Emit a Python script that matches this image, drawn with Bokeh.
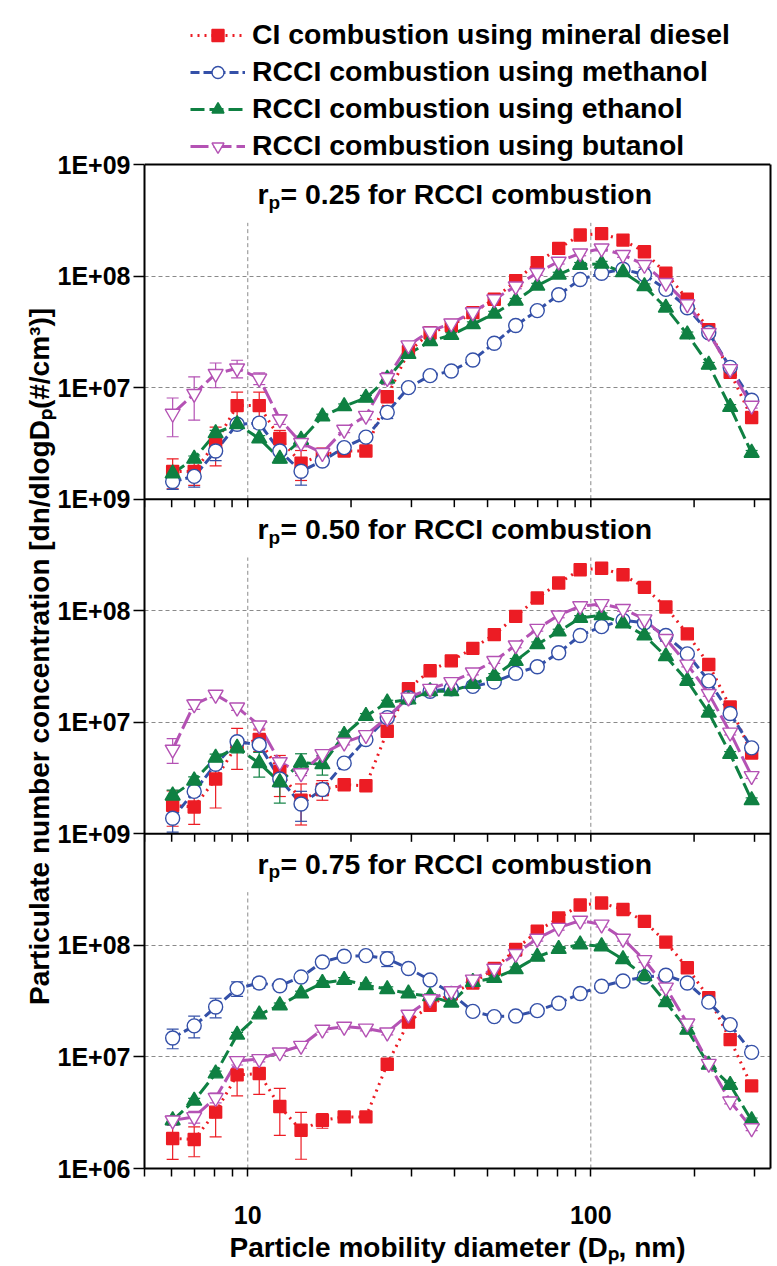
from bokeh.plotting import figure
from bokeh.models import (Range1d, LogScale, FixedTicker, Span, Label, Legend, LegendItem,
                          ColumnDataSource, Whisker, TeeHead, CustomJSTickFormatter,
                          BasicTickFormatter, LogAxis)
from bokeh.embed import file_html
from bokeh.resources import INLINE
import numpy as np

FONT = "Liberation Sans"

# ---------------- data ----------------
x_nm = [6.04, 6.98, 8.06, 9.31, 10.8, 12.4, 14.3, 16.5, 19.1, 22.1, 25.5, 29.4, 34.0, 39.2,
        45.3, 52.3, 60.4, 69.8, 80.6, 93.1, 107.5, 124.1, 143.3, 165.5, 191.1, 220.7, 254.8, 294.3]

series_names = ["CI combustion using mineral diesel", "RCCI combustion using methanol",
                "RCCI combustion using ethanol", "RCCI combustion using butanol"]
panel_rp = ["0.25", "0.50", "0.75"]

# r_p = 0.25
p1_diesel = [1.77e6, 1.77e6, 3.2e6, 6.9e6, 6.9e6, 3.5e6, 2.1e6, 2.5e6, 2.7e6, 2.7e6, 8.3e6, 2.1e7, 3.1e7, 3.6e7,
             4.7e7, 6.2e7, 9.1e7, 1.32e8, 1.77e8, 2.33e8, 2.4e8, 2.1e8, 1.65e8, 1.06e8, 6.2e7, 3.3e7, 1.37e7, 5.4e6]
p1_methanol = [1.44e6, 1.6e6, 2.7e6, 4.7e6, 4.8e6, 2.7e6, 1.78e6, 2.2e6, 2.9e6, 3.6e6, 6.0e6, 1.0e7, 1.28e7, 1.41e7,
               1.77e7, 2.5e7, 3.6e7, 4.9e7, 6.8e7, 9.3e7, 1.06e8, 1.15e8, 1.03e8, 7.6e7, 5.2e7, 3.1e7, 1.52e7, 7.7e6]
p1_ethanol = [1.7e6, 2.3e6, 3.9e6, 4.7e6, 3.5e6, 2.3e6, 3.4e6, 5.5e6, 6.8e6, 8.1e6, 1.2e7, 2.0e7, 2.6e7, 2.96e7,
              3.7e7, 4.6e7, 6.0e7, 8.2e7, 1.03e8, 1.26e8, 1.29e8, 1.08e8, 8.1e7, 5.2e7, 3.0e7, 1.6e7, 6.7e6, 2.6e6]
p1_butanol = [5.85e6, 8.8e6, 1.33e7, 1.49e7, 1.21e7, 5.2e6, 3.2e6, 2.6e6, 4.2e6, 5.6e6, 1.22e7, 2.4e7, 3.2e7, 3.77e7,
              4.75e7, 6.2e7, 8.1e7, 1.07e8, 1.35e8, 1.6e8, 1.77e8, 1.55e8, 1.26e8, 8.7e7, 5.6e7, 3.1e7, 1.47e7, 6.9e6]
# r_p = 0.50
p2_diesel = [1.8e6, 1.74e6, 3.1e6, 6.3e6, 7.0e6, 3.6e6, 2.0e6, 2.5e6, 2.75e6, 2.7e6, 8.3e6, 2.0e7, 2.9e7, 3.55e7,
             4.6e7, 6.1e7, 8.9e7, 1.3e8, 1.77e8, 2.33e8, 2.4e8, 2.1e8, 1.62e8, 1.08e8, 6.2e7, 3.3e7, 1.37e7, 5.3e6]
p2_methanol = [1.38e6, 2.4e6, 4.2e6, 6.7e6, 6.3e6, 3.1e6, 1.85e6, 2.5e6, 4.3e6, 7.0e6, 1.1e7, 1.66e7, 1.9e7, 2.0e7,
               2.1e7, 2.3e7, 2.75e7, 3.15e7, 4.2e7, 6.0e7, 7.2e7, 8.2e7, 7.8e7, 6.0e7, 4.1e7, 2.35e7, 1.2e7, 5.9e6]
p2_ethanol = [2.2e6, 3.0e6, 4.8e6, 5.9e6, 4.3e6, 2.9e6, 4.35e6, 4.2e6, 7.7e6, 1.14e7, 1.5e7, 1.6e7, 1.9e7, 1.9e7,
              2.2e7, 2.6e7, 3.55e7, 5.0e7, 6.5e7, 8.6e7, 9.1e7, 7.7e7, 6.0e7, 3.9e7, 2.35e7, 1.22e7, 5.2e6, 2.0e6]
p2_butanol = [5.7e6, 1.45e7, 1.77e7, 1.36e7, 9.4e6, 4.4e6, 3.5e6, 5.2e6, 6.6e6, 7.7e6, 1.1e7, 1.67e7, 2.0e7, 2.3e7,
              2.8e7, 3.55e7, 4.9e7, 6.9e7, 9.1e7, 1.1e8, 1.15e8, 1.04e8, 8.4e7, 5.6e7, 3.3e7, 1.8e7, 8.1e6, 3.3e6]
# r_p = 0.75
p3_diesel = [1.86e6, 1.82e6, 3.2e6, 6.9e6, 7.1e6, 3.6e6, 2.2e6, 2.7e6, 2.9e6, 2.9e6, 8.6e6, 2.05e7, 2.9e7, 3.7e7,
             4.6e7, 6.2e7, 9.2e7, 1.34e8, 1.76e8, 2.3e8, 2.4e8, 2.1e8, 1.64e8, 1.07e8, 6.3e7, 3.4e7, 1.43e7, 5.5e6]
p3_methanol = [1.48e7, 1.9e7, 2.8e7, 4.1e7, 4.6e7, 4.35e7, 5.2e7, 7.1e7, 8.0e7, 8.1e7, 7.6e7, 6.2e7, 4.9e7, 3.7e7,
               2.56e7, 2.3e7, 2.33e7, 2.6e7, 3.03e7, 3.7e7, 4.3e7, 4.8e7, 5.2e7, 5.4e7, 4.6e7, 3.1e7, 1.95e7, 1.1e7]
p3_ethanol = [2.7e6, 4.05e6, 7.1e6, 1.58e7, 2.4e7, 2.9e7, 3.7e7, 4.6e7, 4.9e7, 4.4e7, 4.05e7, 3.7e7, 3.5e7, 3.07e7,
              4.7e7, 5.1e7, 6.1e7, 7.9e7, 9.3e7, 1.02e8, 9.8e7, 7.5e7, 5.3e7, 3.1e7, 1.75e7, 8.5e6, 5.6e6, 2.7e6]
p3_butanol = [2.7e6, 2.9e6, 4.3e6, 9.2e6, 9.6e6, 1.1e7, 1.26e7, 1.76e7, 1.87e7, 1.8e7, 1.66e7, 2.4e7, 3.3e7, 3.9e7,
              4.95e7, 6.2e7, 8.4e7, 1.15e8, 1.44e8, 1.67e8, 1.54e8, 1.15e8, 7.4e7, 4.2e7, 2.0e7, 8.7e6, 4.0e6, 2.3e6]

# relative error bars (fraction of value)
p1_diesel_err = [0.30, 0.25, 0.38, 0.32, 0.32, 0.18, 0.30, 0.15, 0.06, 0.06, 0.12, 0.05, 0.05, 0.05,
                 0.05, 0.05, 0.05, 0.05, 0.05, 0.05, 0.05, 0.05, 0.05, 0.05, 0.05, 0.05, 0.05, 0.05]
p1_methanol_err = [0.15, 0.20, 0.18, 0.10, 0.10, 0.15, 0.25, 0.08, 0.06, 0.08, 0.12, 0.05, 0.05, 0.05,
                   0.05, 0.05, 0.05, 0.05, 0.05, 0.05, 0.05, 0.05, 0.05, 0.05, 0.05, 0.05, 0.05, 0.05]
p1_ethanol_err = [0.06, 0.06, 0.06, 0.08, 0.06, 0.08, 0.08, 0.05, 0.05, 0.05, 0.05, 0.05, 0.05, 0.05,
                  0.05, 0.05, 0.05, 0.05, 0.05, 0.05, 0.05, 0.05, 0.05, 0.05, 0.05, 0.05, 0.05, 0.05]
p1_butanol_err = [0.38, 0.42, 0.25, 0.18, 0.12, 0.10, 0.08, 0.08, 0.06, 0.08, 0.12, 0.06, 0.05, 0.05,
                  0.05, 0.05, 0.05, 0.05, 0.05, 0.05, 0.05, 0.05, 0.05, 0.05, 0.05, 0.05, 0.05, 0.05]
p2_diesel_err = [0.35, 0.30, 0.45, 0.40, 0.22, 0.40, 0.40, 0.20, 0.06, 0.05, 0.05, 0.05, 0.05, 0.05,
                 0.05, 0.05, 0.05, 0.05, 0.05, 0.05, 0.05, 0.05, 0.05, 0.05, 0.05, 0.05, 0.05, 0.05]
p2_methanol_err = [0.25, 0.10, 0.10, 0.08, 0.10, 0.15, 0.30, 0.12, 0.06, 0.05, 0.05, 0.05, 0.05, 0.05,
                   0.05, 0.05, 0.05, 0.05, 0.05, 0.05, 0.05, 0.05, 0.05, 0.05, 0.05, 0.05, 0.05, 0.05]
p2_ethanol_err = [0.12, 0.08, 0.08, 0.10, 0.25, 0.35, 0.20, 0.20, 0.06, 0.05, 0.05, 0.05, 0.05, 0.05,
                  0.05, 0.05, 0.05, 0.05, 0.05, 0.05, 0.05, 0.05, 0.05, 0.05, 0.05, 0.05, 0.05, 0.05]
p2_butanol_err = [0.25, 0.10, 0.06, 0.06, 0.06, 0.06, 0.05, 0.05, 0.05, 0.05, 0.05, 0.05, 0.05, 0.05,
                  0.05, 0.05, 0.05, 0.05, 0.05, 0.05, 0.05, 0.05, 0.05, 0.05, 0.05, 0.05, 0.05, 0.05]
p3_diesel_err = [0.35, 0.30, 0.40, 0.35, 0.35, 0.45, 0.45, 0.15, 0.08, 0.05, 0.05, 0.05, 0.05, 0.05,
                 0.05, 0.05, 0.05, 0.05, 0.05, 0.05, 0.05, 0.05, 0.05, 0.05, 0.05, 0.05, 0.05, 0.05]
p3_methanol_err = [0.20, 0.22, 0.20, 0.15, 0.10, 0.08, 0.08, 0.06, 0.06, 0.06, 0.15, 0.06, 0.05, 0.05,
                   0.05, 0.05, 0.05, 0.05, 0.05, 0.05, 0.05, 0.05, 0.05, 0.05, 0.05, 0.05, 0.05, 0.05]
p3_ethanol_err = [0.05, 0.05, 0.05, 0.05, 0.05, 0.05, 0.05, 0.05, 0.05, 0.05, 0.05, 0.05, 0.05, 0.05,
                  0.05, 0.05, 0.05, 0.05, 0.05, 0.05, 0.05, 0.05, 0.05, 0.05, 0.05, 0.05, 0.05, 0.05]
p3_butanol_err = [0.10, 0.12, 0.10, 0.08, 0.06, 0.06, 0.05, 0.05, 0.05, 0.05, 0.05, 0.05, 0.05, 0.05,
                  0.05, 0.05, 0.05, 0.05, 0.05, 0.05, 0.05, 0.05, 0.05, 0.05, 0.05, 0.05, 0.05, 0.05]

panels = [
    [(p1_diesel, p1_diesel_err), (p1_methanol, p1_methanol_err), (p1_ethanol, p1_ethanol_err), (p1_butanol, p1_butanol_err)],
    [(p2_diesel, p2_diesel_err), (p2_methanol, p2_methanol_err), (p2_ethanol, p2_ethanol_err), (p2_butanol, p2_butanol_err)],
    [(p3_diesel, p3_diesel_err), (p3_methanol, p3_methanol_err), (p3_ethanol, p3_ethanol_err), (p3_butanol, p3_butanol_err)],
]

# axis ticks
x_major_ticks = [10, 100]
x_minor_ticks = [5, 6, 7, 8, 9, 20, 30, 40, 50, 60, 70, 80, 90, 200, 300]
y_ticks_main = [1e0, 1e1, 1e2, 1e3, 1e4, 1e5, 1e6, 1e7, 1e8, 1e9]
y_tick_labels = ["1E+06", "1E+07", "1E+08", "1E+09", "1E+07", "1E+08", "1E+09", "1E+07", "1E+08", "1E+09"]
y_grid_ticks = [1e1, 1e2, 1e4, 1e5, 1e7, 1e8]
panel_boundaries = [1e9, 1e6, 1e3]
panel_bottom = 1e6        # each panel spans 1E+06 .. 1E+09 of its own scale
vgrid_top = 3e8           # vertical grid lines stop below the panel titles

# ---------------- styles ----------------
colors = ["#EC1C24", "#3450A8", "#0F8042", "#B452B4"]
dashes = ["2 5", "9 4", "14 5", "18 5"]
markers = ["square", "circle", "triangle", "inverted_triangle"]
msizes = [12, 14, 15, 15]
mfills = ["#EC1C24", "white", "#0F8042", "white"]
range_names = ["default", "p2", "p3"]

# frame layout: legend sits inside the top of the frame, above the three panels
W, H = 772, 1266
B_LEFT, B_TOP, B_BOTTOM, B_RIGHT = 144, 4, 98, 2
panel_px = 1004
head = 10 ** (9 * (H - B_TOP - B_BOTTOM - panel_px) / panel_px)   # headroom factor above 1E+09

p = figure(width=W, height=H, x_axis_type="log", y_axis_type="log",
           x_range=Range1d(5, 334), y_range=Range1d(1, 1e9 * head),
           output_backend="svg", toolbar_location=None,
           min_border_left=B_LEFT, min_border_top=B_TOP, min_border_bottom=B_BOTTOM,
           min_border_right=B_RIGHT,
           background_fill_color="white", border_fill_color="white")
p.extra_y_ranges = {"p2": Range1d(1e3, 1e12 * head), "p3": Range1d(1e6, 1e15 * head)}
p.extra_y_scales = {"p2": LogScale(), "p3": LogScale()}
p.outline_line_color = None

# grids
p.xgrid.grid_line_color = None
p.ygrid.ticker = FixedTicker(ticks=y_grid_ticks)
p.ygrid.grid_line_color = "#8a8a8a"
p.ygrid.grid_line_dash = "4 3"
p.ygrid.grid_line_width = 1

# panel separators / top border
for b in panel_boundaries:
    p.add_layout(Span(location=b, dimension="width", line_color="black", line_width=2))

# tick marks hanging from panel separators
tick_x = x_minor_ticks + x_major_ticks
for b in panel_boundaries[1:]:
    p.ray(x=tick_x, y=[b] * len(tick_x), length=8, length_units="screen",
          angle=-np.pi / 2, line_color="black", line_width=1.5)

# axes
xa = p.xaxis[0]
xa.ticker = FixedTicker(ticks=x_major_ticks, minor_ticks=x_minor_ticks)
xa.formatter = BasicTickFormatter()
xa.axis_label = "Particle mobility diameter (D\u209a, nm)"
ya = p.yaxis[0]
ya.bounds = (1, 1e9)
ya.ticker = FixedTicker(ticks=y_ticks_main, minor_ticks=[])
ya.formatter = CustomJSTickFormatter(args=dict(labels=y_tick_labels),
                                     code="return labels[Math.round(Math.log10(tick))];")
# trailing no-break spaces centre the label on the panels rather than on the whole frame
ya.axis_label = "Particulate number concentration [dn/dlogD\u209a(#/cm\u00b3)]" + "\u00a0" * 18
for ax in (xa, ya):
    ax.axis_line_width = 2
    ax.axis_line_color = "black"
    ax.major_tick_line_width = 1.5
    ax.minor_tick_line_width = 1.5
    ax.major_tick_in = 0
    ax.minor_tick_in = 0
    ax.major_label_text_font = FONT
    ax.major_label_text_font_style = "bold"
    ax.major_label_text_font_size = "25px"
    ax.major_label_text_color = "black"
    ax.axis_label_text_font = FONT
    ax.axis_label_text_font_style = "bold"
    ax.axis_label_text_font_size = "28px"
    ax.axis_label_text_color = "black"
xa.major_tick_out = 8
xa.minor_tick_out = 8
xa.major_label_standoff = 29
xa.axis_label_standoff = 5
ya.major_tick_out = 11
ya.major_label_standoff = 3
ya.axis_label_standoff = 0

# right border of the panels
ra = LogAxis(bounds=(1, 1e9), ticker=FixedTicker(ticks=[], minor_ticks=[]),
             axis_line_width=2, axis_line_color="black", major_tick_out=0, major_tick_in=0,
             minor_tick_out=0, minor_tick_in=0, major_label_text_font_size="0px")
p.add_layout(ra, "right")

# data renderers
legend_items = []
for pi, panel in enumerate(panels):
    rn = range_names[pi]
    # vertical dashed grid lines of this panel
    p.segment(x0=x_major_ticks, y0=[panel_bottom] * len(x_major_ticks),
              x1=x_major_ticks, y1=[vgrid_top] * len(x_major_ticks),
              line_color="#8a8a8a", line_dash="4 3", line_width=1, y_range_name=rn)
    srcs = []
    for si, (vals, errs) in enumerate(panel):
        lo = [v * (1 - e) for v, e in zip(vals, errs)]
        hi = [v * (1 + e) for v, e in zip(vals, errs)]
        srcs.append(ColumnDataSource(dict(x=x_nm, y=vals, lo=lo, hi=hi)))
    lines = []
    for si, src in enumerate(srcs):
        lines.append(p.line("x", "y", source=src, line_color=colors[si], line_width=3,
                            line_dash=dashes[si], y_range_name=rn))
    marks = []
    for si, src in enumerate(srcs):
        marks.append(p.scatter("x", "y", source=src, marker=markers[si], size=msizes[si],
                               fill_color=mfills[si], line_color=colors[si], line_width=1.4,
                               y_range_name=rn))
    for si, src in enumerate(srcs):
        w = Whisker(source=src, base="x", upper="hi", lower="lo", dimension="height",
                    line_color=colors[si], line_width=1.2, y_range_name=rn,
                    upper_head=TeeHead(size=12, line_color=colors[si], line_width=1.2),
                    lower_head=TeeHead(size=12, line_color=colors[si], line_width=1.2))
        p.add_layout(w)
    if pi == 0:
        for si in range(4):
            legend_items.append(LegendItem(label=series_names[si], renderers=[lines[si], marks[si]]))

    # panel title: r_p = ... for RCCI combustion
    base_y = 5.4e8
    p.add_layout(Label(x=113, y=base_y, x_units="screen", y_units="data", y_range_name=rn,
                       text="r", text_font=FONT, text_font_style="bold", text_font_size="28.4px",
                       text_color="black", text_baseline="alphabetic"))
    p.add_layout(Label(x=124, y=base_y, x_units="screen", y_units="data", y_range_name=rn,
                       y_offset=-8, text="p", text_font=FONT, text_font_style="bold",
                       text_color="black", text_font_size="19px", text_baseline="alphabetic"))
    p.add_layout(Label(x=136, y=base_y, x_units="screen", y_units="data", y_range_name=rn,
                       text="= " + panel_rp[pi] + " for RCCI combustion", text_font=FONT,
                       text_color="black", text_font_style="bold", text_font_size="28.4px",
                       text_baseline="alphabetic"))

legend = Legend(items=legend_items, location=(46, 1006), orientation="vertical",
                label_text_font=FONT, label_text_font_style="bold", label_text_font_size="28.4px",
                label_text_color="black", glyph_width=55, glyph_height=30, label_height=30,
                label_standoff=7, spacing=4, padding=0, margin=0,
                background_fill_alpha=0, border_line_alpha=0)
p.add_layout(legend)

open("out.html", "w").write(file_html(p, INLINE))
